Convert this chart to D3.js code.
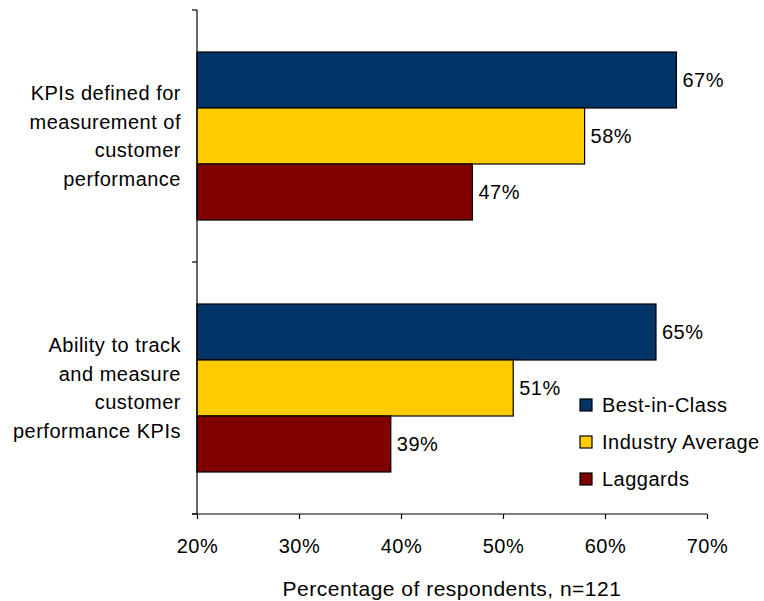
<!DOCTYPE html>
<html>
<head>
<meta charset="utf-8">
<script src="https://cdn.jsdelivr.net/npm/d3@7"></script>
<style>
  body { margin: 0; background: #fff; }
  svg text { font-family: "Liberation Sans", Arial, sans-serif; fill: #000; letter-spacing: 0.5px; }
</style>
</head>
<body>
<svg id="chart" width="764" height="601"></svg>
<script>
// Categories (each label split into its display lines)
const categories = ["KPIs defined for measurement of customer performance",
                    "Ability to track and measure customer performance KPIs"];
const categoryLines = [
  ["KPIs defined for", "measurement of", "customer", "performance"],
  ["Ability to track", "and measure", "customer", "performance KPIs"]
];
const seriesNames = ["Best-in-Class", "Industry Average", "Laggards"];
const bestInClass = [67, 65];
const industryAverage = [58, 51];
const laggards = [47, 39];
const xTicks = [20, 30, 40, 50, 60, 70];
const colors = ["#003366", "#FFCC00", "#800000"];

const seriesValues = [bestInClass, industryAverage, laggards];

const svg = d3.select("#chart");
const margin = { left: 197, right: 57, top: 10, bottom: 87 };
const W = 764, H = 601;
const FS = 20;

const x = d3.scaleLinear().domain([20, 70]).range([margin.left, W - margin.right]);
const y = d3.scaleBand().domain(categories).range([margin.top, H - margin.bottom])
  .paddingInner(1 / 3).paddingOuter(1 / 6);
const ySub = d3.scaleBand().domain(seriesNames).range([0, y.bandwidth()]);

// Bars
categories.forEach((cat, ci) => {
  const g = svg.append("g");
  seriesNames.forEach((s, si) => {
    const v = seriesValues[si][ci];
    g.append("rect")
      .attr("x", x(20))
      .attr("y", y(cat) + ySub(s))
      .attr("width", x(v) - x(20))
      .attr("height", ySub.bandwidth())
      .attr("fill", colors[si])
      .attr("stroke", "#000")
      .attr("stroke-width", 1.2);
    g.append("text")
      .attr("x", x(v) + 6)
      .attr("y", y(cat) + ySub(s) + ySub.bandwidth() / 2)
      .attr("dy", "0.35em")
      .attr("font-size", FS)
      .text(v + "%");
  });
});

// Y axis: line with ticks at category boundaries
const yAxisG = svg.append("g");
yAxisG.append("line")
  .attr("x1", x(20)).attr("x2", x(20))
  .attr("y1", margin.top).attr("y2", H - margin.bottom)
  .attr("stroke", "#000").attr("stroke-width", 1.2);
const boundaries = [margin.top, (margin.top + H - margin.bottom) / 2, H - margin.bottom];
boundaries.forEach(b => {
  yAxisG.append("line")
    .attr("x1", x(20) - 5).attr("x2", x(20))
    .attr("y1", b).attr("y2", b)
    .attr("stroke", "#000").attr("stroke-width", 1.2);
});

// Category labels
categories.forEach((cat, ci) => {
  const lines = categoryLines[ci];
  const cy = y(cat) + y.bandwidth() / 2;
  const lh = 28.7;
  lines.forEach((ln, li) => {
    svg.append("text")
      .attr("x", 181)
      .attr("y", cy + (li - (lines.length - 1) / 2) * lh)
      .attr("dy", "0.35em")
      .attr("text-anchor", "end")
      .attr("font-size", FS)
      .text(ln);
  });
});

// X axis
const xAxis = d3.axisBottom(x).tickValues(xTicks).tickFormat(d => d + "%")
  .tickSize(5).tickSizeOuter(0).tickPadding(20);
const xg = svg.append("g")
  .attr("transform", `translate(0,${H - margin.bottom})`)
  .call(xAxis);
xg.select(".domain").attr("stroke", "#000").attr("stroke-width", 1.2)
  .attr("d", `M${x(20) - 5},0H${x(70)}`);
xg.selectAll(".tick line").attr("stroke", "#000").attr("stroke-width", 1.2);
xg.selectAll(".tick text").attr("font-size", FS)
  .attr("font-family", "Liberation Sans, Arial, sans-serif").attr("fill", "#000");

svg.append("text")
  .attr("x", (x(20) + x(70)) / 2)
  .attr("y", 589)
  .attr("dy", "0.35em")
  .attr("text-anchor", "middle")
  .attr("font-size", 21)
  .text("Percentage of respondents, n=121");

// Legend
const legend = svg.append("g").attr("transform", "translate(580,405)");
seriesNames.forEach((s, i) => {
  const row = legend.append("g").attr("transform", `translate(0,${i * 37})`);
  row.append("rect")
    .attr("x", 0).attr("y", -6)
    .attr("width", 12).attr("height", 12)
    .attr("fill", colors[i]).attr("stroke", "#000").attr("stroke-width", 1.2);
  row.append("text")
    .attr("x", 22).attr("y", 0).attr("dy", "0.35em")
    .attr("font-size", FS)
    .text(s);
});
</script>
</body>
</html>
